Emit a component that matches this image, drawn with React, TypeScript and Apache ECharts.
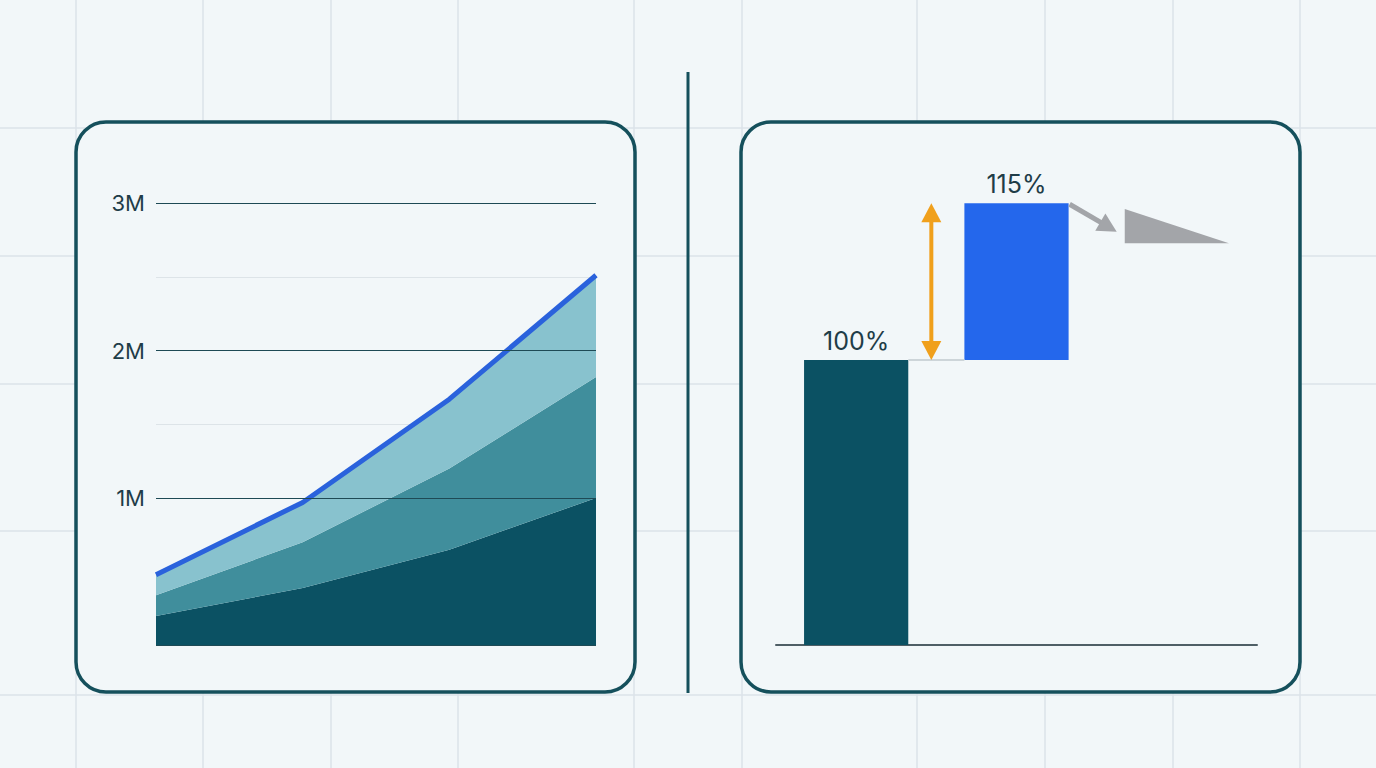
import React, { useEffect, useRef } from "react";
import * as echarts from "echarts";

// ---- Left chart data (values in millions) ----
const periods = ["P1", "P2", "P3", "P4"];
const layerBase = [0.2, 0.39, 0.65, 1.0];
const layerMid = [0.14, 0.31, 0.55, 0.82];
const layerTop = [0.14, 0.27, 0.47, 0.69];
const yMaxLeft = 3;

// ---- Right chart data (percent) ----
const steps = ["Baseline", "Increase", "Outlook"];
const barBase = [0, 100, "-"];
const barRise = [100, 55, "-"];
const barLabels = ["100%", "115%"];
const gapArrow = [[0, 100, 1, 155]];
const trendArrow = [[1, 155, 2, 145]];
const wedge = [[2, 153, 141]];
const yMaxRight = 160;

// ---- Decorative background grid ----
const bgVertical = [76, 203, 331, 458, 634, 742, 917, 1045, 1173, 1300];
const bgHorizontal = [128, 256, 384, 531, 695];

const BG = "#f2f7f9";
const FRAME = "#15505c";
const TEXT = "#1f3d48";
const FONT = "Inter, 'Noto Sans', sans-serif";
const BAR_RATIO = 0.65;

function buildOption(): any {
  const graphics: any[] = [];
  bgVertical.forEach((x) =>
    graphics.push({
      type: "line",
      z: -3,
      shape: { x1: x, y1: 0, x2: x, y2: 768 },
      style: { stroke: "#dbe3e8", lineWidth: 1.5 },
    })
  );
  bgHorizontal.forEach((y) =>
    graphics.push({
      type: "line",
      z: -3,
      shape: { x1: 0, y1: y, x2: 1376, y2: y },
      style: { stroke: "#dbe3e8", lineWidth: 1.5 },
    })
  );
  [76, 741].forEach((x) =>
    graphics.push({
      type: "rect",
      z: -2,
      shape: { x, y: 122, width: 559, height: 570, r: 30 },
      style: { fill: BG, stroke: FRAME, lineWidth: 3.5 },
    })
  );
  graphics.push({
    type: "line",
    z: -2,
    shape: { x1: 688, y1: 72, x2: 688, y2: 693 },
    style: { stroke: FRAME, lineWidth: 3 },
  });

  const areaSeries = (name: string, data: number[], color: string, top: boolean) => ({
    name,
    type: "line",
    stack: "total",
    xAxisIndex: 0,
    yAxisIndex: 0,
    data,
    symbol: "none",
    z: 2,
    lineStyle: top ? { color: "#2a62dc", width: 5, cap: "butt" } : { width: 0, color },
    areaStyle: { color, opacity: 1 },
  });

  return {
    animation: false,
    backgroundColor: BG,
    textStyle: { fontFamily: FONT },
    graphic: graphics,
    grid: [
      { left: 156, right: 780, top: 203, bottom: 122.5 },
      { left: 776, right: 119, top: 189, bottom: 123 },
    ],
    xAxis: [
      {
        type: "category",
        gridIndex: 0,
        data: periods,
        boundaryGap: false,
        axisLine: { show: false },
        axisTick: { show: false },
        axisLabel: { show: false },
        splitLine: { show: false },
      },
      {
        type: "category",
        gridIndex: 1,
        data: steps,
        axisLine: { show: true, lineStyle: { color: "#4f5f66", width: 2 } },
        axisTick: { show: false },
        axisLabel: { show: false },
        splitLine: { show: false },
      },
    ],
    yAxis: [
      {
        type: "value",
        gridIndex: 0,
        min: 0,
        max: yMaxLeft,
        interval: 0.5,
        z: 1,
        axisLine: { show: false },
        axisTick: { show: false },
        axisLabel: { show: false },
        splitLine: { show: true, lineStyle: { color: "#dde4e8", width: 1 } },
      },
      {
        type: "value",
        gridIndex: 0,
        min: 0,
        max: yMaxLeft,
        interval: 1,
        z: 5,
        position: "left",
        axisLine: { show: false },
        axisTick: { show: false },
        axisLabel: {
          show: true,
          margin: 11,
          color: TEXT,
          fontSize: 22,
          fontFamily: FONT,
          formatter: (v: number) => (v === 0 ? "" : `${v}M`),
        },
        splitLine: { show: true, lineStyle: { color: "#1e4a55", width: 1.2 } },
      },
      {
        type: "value",
        gridIndex: 1,
        min: 0,
        max: yMaxRight,
        show: false,
        splitLine: { show: false },
      },
    ],
    series: [
      areaSeries("Segment A", layerBase, "#0b5163", false),
      areaSeries("Segment B", layerMid, "#408e9c", false),
      areaSeries("Segment C", layerTop, "#88c2ce", true),
      {
        name: "base",
        type: "bar",
        xAxisIndex: 1,
        yAxisIndex: 2,
        stack: "wf",
        barWidth: `${BAR_RATIO * 100}%`,
        data: barBase,
        itemStyle: { color: "transparent" },
        silent: true,
      },
      {
        name: "value",
        type: "bar",
        xAxisIndex: 1,
        yAxisIndex: 2,
        stack: "wf",
        barWidth: `${BAR_RATIO * 100}%`,
        data: barRise.map((v, i) =>
          v === "-" ? v : { value: v, itemStyle: { color: i === 0 ? "#0b5163" : "#2467ec" } }
        ),
        label: {
          show: true,
          position: "top",
          distance: 7,
          color: TEXT,
          fontSize: 25,
          fontFamily: FONT,
          formatter: (p: any) => barLabels[p.dataIndex] ?? "",
        },
      },
      {
        name: "gap",
        type: "custom",
        xAxisIndex: 1,
        yAxisIndex: 2,
        data: gapArrow,
        z: 3,
        renderItem: (params: any, api: any) => {
          const c0 = api.value(0), v0 = api.value(1), c1 = api.value(2), v1 = api.value(3);
          const hw = (api.size([1, 0])[0] * BAR_RATIO) / 2;
          const a = api.coord([c0, v0]);
          const b = api.coord([c1, v1]);
          const bBase = api.coord([c1, v0]);
          const x = (a[0] + b[0]) / 2 - 5;
          const yLow = a[1];
          const yHigh = b[1];
          const hh = 19, hwid = 10;
          const orange = "#f0a01c";
          return {
            type: "group",
            children: [
              {
                type: "line",
                shape: { x1: a[0] + hw, y1: yLow, x2: bBase[0] - hw, y2: yLow },
                style: { stroke: "#cdd5d9", lineWidth: 2 },
              },
              {
                type: "line",
                shape: { x1: x, y1: yHigh + hh - 2, x2: x, y2: yLow - hh + 2 },
                style: { stroke: orange, lineWidth: 4 },
              },
              {
                type: "polygon",
                shape: { points: [[x, yHigh], [x - hwid, yHigh + hh], [x + hwid, yHigh + hh]] },
                style: { fill: orange },
              },
              {
                type: "polygon",
                shape: { points: [[x, yLow], [x - hwid, yLow - hh], [x + hwid, yLow - hh]] },
                style: { fill: orange },
              },
            ],
          };
        },
      },
      {
        name: "trend",
        type: "custom",
        xAxisIndex: 1,
        yAxisIndex: 2,
        data: trendArrow,
        z: 3,
        renderItem: (params: any, api: any) => {
          const hw = (api.size([1, 0])[0] * BAR_RATIO) / 2;
          const s0 = api.coord([api.value(0), api.value(1)]);
          const e0 = api.coord([api.value(2), api.value(3)]);
          const s = [s0[0] + hw + 1, s0[1] + 1];
          const e = [e0[0] - hw - 8, e0[1]];
          const dx = e[0] - s[0], dy = e[1] - s[1];
          const len = Math.sqrt(dx * dx + dy * dy);
          const ux = dx / len, uy = dy / len;
          const hl = 19, hwid = 10;
          const bx = e[0] - ux * hl, by = e[1] - uy * hl;
          const gray = "#a3a5a9";
          return {
            type: "group",
            children: [
              {
                type: "line",
                shape: { x1: s[0], y1: s[1], x2: bx + ux * 2, y2: by + uy * 2 },
                style: { stroke: gray, lineWidth: 5 },
              },
              {
                type: "polygon",
                shape: {
                  points: [
                    [e[0], e[1]],
                    [bx - uy * hwid, by + ux * hwid],
                    [bx + uy * hwid, by - ux * hwid],
                  ],
                },
                style: { fill: gray },
              },
            ],
          };
        },
      },
      {
        name: "outlook",
        type: "custom",
        xAxisIndex: 1,
        yAxisIndex: 2,
        data: wedge,
        z: 3,
        renderItem: (params: any, api: any) => {
          const hw = (api.size([1, 0])[0] * BAR_RATIO) / 2;
          const t = api.coord([api.value(0), api.value(1)]);
          const b = api.coord([api.value(0), api.value(2)]);
          return {
            type: "polygon",
            shape: {
              points: [
                [t[0] - hw, t[1]],
                [b[0] - hw, b[1]],
                [b[0] + hw, b[1]],
              ],
            },
            style: { fill: "#a3a5a9" },
          };
        },
      },
    ],
  };
}

export default function App() {
  const ref = useRef<HTMLDivElement>(null);
  useEffect(() => {
    if (!ref.current) return;
    const chart = echarts.init(ref.current, null, { renderer: "svg" });
    chart.setOption(buildOption());
    return () => chart.dispose();
  }, []);
  return (
    <div
      ref={ref}
      style={{ position: "fixed", left: 0, top: 0, width: 1376, height: 768, background: BG }}
    />
  );
}
